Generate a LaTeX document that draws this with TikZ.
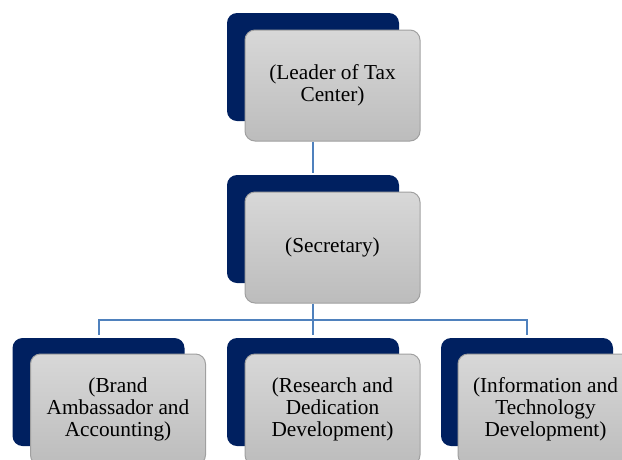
\documentclass[tikz,border=0pt]{standalone}
\usepackage{fontspec}
\setmainfont{Liberation Serif}
\usepackage{tikz}
\usetikzlibrary{calc,positioning}
\definecolor{navy}{RGB}{0,32,96}
\definecolor{linkblue}{RGB}{79,129,189}
\definecolor{cardtop}{RGB}{216,216,216}
\definecolor{cardbottom}{RGB}{188,188,188}
\definecolor{cardline}{RGB}{160,160,160}
\tikzset{
	back/.style={fill=navy, draw=none, rounded corners=10pt,
		minimum width=172pt, minimum height=108pt},
	card/.style={top color=cardtop, bottom color=cardbottom, draw=cardline,
		line width=1pt, rounded corners=10pt, minimum width=175pt,
		minimum height=111pt, align=center, inner sep=0pt,
		font=\fontsize{21.3}{22}\selectfont},
	link/.style={draw=linkblue, line width=2pt},
}

\begin{document}
\begin{tikzpicture}[x=1pt,y=-1pt]
		\useasboundingbox (0,0) rectangle (622,459);
		\clip (0,0) rectangle (622,459);

		\node[back] (leaderback) at (313,67) {};
		\node[card] (leader) at (332.5,85.5) {(Leader of Tax\\Center)};

		\node[back] (secback) at (313,229) {};
		\node[card] (secretary) at (332.5,247.5) {(Secretary)};

		\node[back] (brandback) at (98.5,392) {};
		\node[card] (brand) at (118,409.5) {(Brand\\Ambassador and\\Accounting)};

		\node[back] (researchback) at (313,392) {};
		\node[card] (research) at (332.5,409.5) {(Research and\\Dedication\\Development)};

		\node[back] (infoback) at (527,392) {};
		\node[card] (info) at (545.5,409.5) {(Information and\\Technology\\Development)};

		\coordinate (split) at (313,320);

		\draw[link, shorten >=2pt] (leader.south -| leaderback.north) -- (secback.north);
		\draw[link] (secretary.south -| secback.north) -- (split);
		\draw[link, shorten >=3pt] (split) -| (brandback.north);
		\draw[link, shorten >=3pt] (split) -- (researchback.north);
		\draw[link, shorten >=3pt] (split) -| (infoback.north);
	\end{tikzpicture}
\end{document}
